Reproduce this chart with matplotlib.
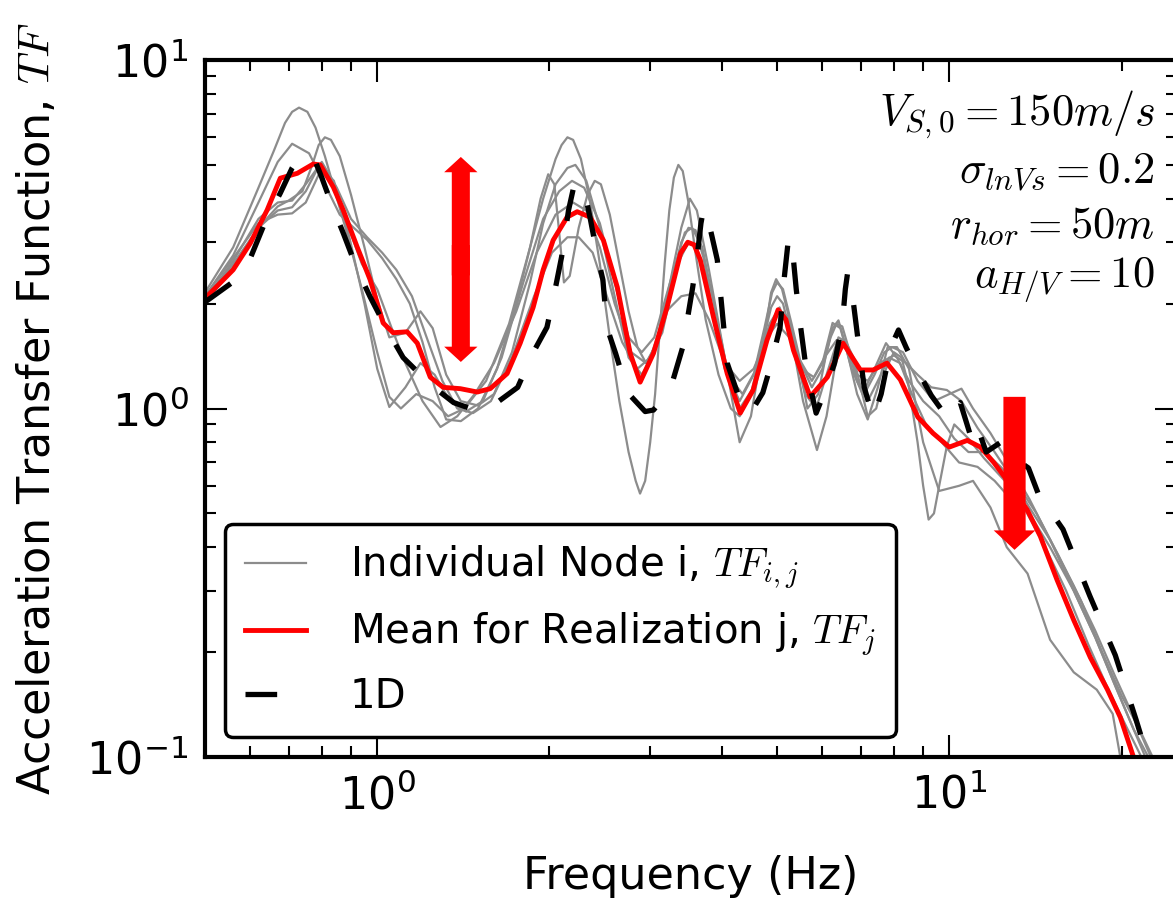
import numpy as np
import matplotlib
matplotlib.use('Agg')
import matplotlib.pyplot as plt

plt.rcParams['mathtext.fontset'] = 'cm'
plt.rcParams['axes.unicode_minus'] = False
plt.rcParams['font.family'] = ['DejaVu Sans']

# individual node transfer functions
g1_f = [0.50, 0.56, 0.62, 0.66, 0.69, 0.71, 0.73, 0.755, 0.78, 0.81, 0.84, 0.88, 0.94, 1.00, 1.05, 1.10,
        1.17, 1.25, 1.33, 1.42, 1.55, 1.70, 1.85, 1.95, 2.05, 2.10, 2.15, 2.20, 2.27, 2.35, 2.45, 2.55,
        2.65, 2.75, 2.83, 2.88, 2.94, 3.00, 3.06, 3.12, 3.18, 3.24, 3.30, 3.36, 3.42, 3.50, 3.60, 3.75,
        3.95, 4.15, 4.30, 4.50, 4.70, 4.88, 5.00, 5.12, 5.30, 5.55, 5.87, 6.10, 6.30, 6.45, 6.60, 6.80,
        7.00, 7.20, 7.45, 7.75, 8.00, 8.25, 8.50, 8.80, 9.00, 9.20, 9.40, 9.60, 9.90, 10.2, 10.8, 11.5,
        12.5, 13.5, 14.5, 16.0, 17.5, 19.0, 20.5, 22.0]
g1_tf = [2.15, 2.9, 4.3, 5.5, 6.6, 7.1, 7.3, 7.1, 6.4, 5.3, 4.3, 3.3, 2.2, 1.45, 1.08, 1.0,
         1.1, 1.05, 0.95, 1.0, 1.2, 1.75, 2.9, 4.0, 5.2, 5.7, 6.0, 5.9, 5.2, 4.0, 2.6, 1.6,
         1.05, 0.75, 0.62, 0.57, 0.62, 0.8, 1.1, 1.7, 2.6, 3.7, 4.6, 5.0, 4.8, 3.9, 2.8, 1.8,
         1.25, 1.0, 0.95, 1.1, 1.5, 1.95, 2.1, 2.0, 1.6, 1.05, 0.76, 0.95, 1.3, 1.5, 1.55, 1.4,
         1.15, 0.95, 1.0, 1.3, 1.45, 1.4, 1.15, 0.8, 0.6, 0.48, 0.5, 0.6, 0.78, 0.9, 0.82, 0.72,
         0.62, 0.52, 0.42, 0.3, 0.21, 0.155, 0.12, 0.095]

g2_f = [0.50, 0.56, 0.62, 0.67, 0.71, 0.76, 0.81, 0.86, 0.91, 0.96, 1.02, 1.08, 1.14, 1.20, 1.26, 1.32,
        1.40, 1.50, 1.62, 1.75, 1.85, 1.93, 1.99, 2.04, 2.08, 2.12, 2.17, 2.25, 2.33, 2.40, 2.46, 2.55,
        2.65, 2.75, 2.85, 2.95, 3.10, 3.25, 3.40, 3.50, 3.60, 3.72, 3.85, 4.05, 4.30, 4.55, 4.75, 4.90,
        5.00, 5.12, 5.30, 5.50, 5.75, 6.00, 6.20, 6.35, 6.50, 6.70, 6.90, 7.10, 7.40, 7.70, 7.95, 8.30,
        8.80, 9.40, 10.0, 10.5, 11.0, 11.8, 12.8, 13.8, 15.0, 16.5, 18.0, 19.5, 21.0, 22.5]
g2_tf = [2.1, 2.75, 3.9, 5.1, 5.75, 5.4, 4.4, 3.6, 3.3, 3.05, 2.7, 2.35, 2.0, 1.55, 1.15, 0.93,
         0.92, 1.0, 1.3, 2.0, 2.9, 4.0, 4.7, 4.4, 3.2, 2.3, 2.4, 3.3, 4.1, 4.5, 4.4, 3.6,
         2.6, 1.9, 1.5, 1.35, 1.55, 2.2, 3.0, 3.3, 3.25, 2.7, 1.95, 1.3, 1.05, 1.25, 1.7, 2.15,
         2.3, 2.2, 1.75, 1.35, 1.15, 1.3, 1.6, 1.75, 1.72, 1.45, 1.2, 1.1, 1.25, 1.45, 1.5, 1.45,
         1.2, 1.05, 1.1, 1.14, 1.0, 0.85, 0.68, 0.55, 0.42, 0.3, 0.22, 0.16, 0.12, 0.097]

g3_f = [0.50, 0.56, 0.62, 0.67, 0.70, 0.74, 0.77, 0.79, 0.81, 0.83, 0.86, 0.90, 0.95, 1.00, 1.05, 1.12,
        1.19, 1.25, 1.32, 1.40, 1.50, 1.60, 1.72, 1.85, 1.95, 2.05, 2.15, 2.22, 2.32, 2.45, 2.60, 2.75,
        2.90, 3.05, 3.25, 3.40, 3.52, 3.62, 3.80, 4.05, 4.30, 4.50, 4.75, 4.88, 4.98, 5.10, 5.35, 5.65,
        5.90, 6.10, 6.25, 6.40, 6.60, 6.90, 7.20, 7.50, 7.80, 8.10, 8.50, 9.00, 9.60, 10.4, 11.0, 11.8,
        12.6, 13.7, 15.0, 16.5, 18.1, 19.3, 19.9, 20.4]
g3_tf = [2.0, 2.55, 3.3, 3.8, 3.95, 4.2, 5.0, 5.7, 6.0, 5.9, 5.3, 4.1, 2.9, 2.05, 1.6, 1.65,
         1.9, 1.7, 1.25, 1.05, 1.02, 1.1, 1.45, 2.3, 3.4, 4.4, 4.9, 5.0, 4.5, 3.3, 2.1, 1.4,
         1.25, 1.45, 2.3, 3.3, 4.0, 3.7, 2.5, 1.4, 0.8, 0.95, 1.6, 2.15, 2.35, 2.2, 1.6, 1.0,
         1.1, 1.45, 1.7, 1.79, 1.5, 1.1, 0.93, 1.15, 1.5, 1.5, 1.3, 0.8, 0.58, 0.6, 0.62, 0.52,
         0.40, 0.336, 0.217, 0.175, 0.156, 0.133, 0.10, 0.088]

g4_f = [0.50, 0.56, 0.62, 0.67, 0.71, 0.75, 0.79, 0.83, 0.88, 0.94, 1.00, 1.06, 1.12, 1.20, 1.29, 1.38,
        1.48, 1.60, 1.75, 1.90, 2.05, 2.20, 2.32, 2.45, 2.60, 2.78, 2.95, 3.15, 3.35, 3.50, 3.62, 3.85,
        4.10, 4.35, 4.60, 4.85, 5.05, 5.30, 5.60, 5.85, 6.10, 6.40, 6.60, 6.90, 7.20, 7.50, 7.85, 8.20,
        8.60, 9.10, 9.70, 10.4, 11.2, 12.0, 12.8, 13.8, 15.0, 16.5, 18.0, 19.5, 21.0, 22.3]
g4_tf = [2.05, 2.6, 3.3, 3.7, 3.78, 4.2, 4.95, 4.6, 3.5, 2.6, 2.2, 1.7, 1.35, 1.05, 0.885, 0.95,
         1.1, 1.35, 1.9, 2.8, 3.6, 3.9, 3.7, 2.9, 2.0, 1.45, 1.35, 1.65, 2.6, 3.0, 2.9, 1.9,
         1.25, 1.1, 1.3, 1.75, 1.95, 1.6, 1.1, 1.0, 1.25, 1.6, 1.55, 1.2, 1.05, 1.2, 1.4, 1.35,
         1.1, 0.9, 0.8, 0.7, 0.68, 0.62, 0.55, 0.5, 0.4, 0.3, 0.22, 0.16, 0.12, 0.095]

g5_f = [0.50, 0.56, 0.62, 0.67, 0.71, 0.75, 0.80, 0.84, 0.89, 0.95, 1.00, 1.05, 1.12, 1.19, 1.26, 1.34,
        1.43, 1.53, 1.65, 1.80, 1.95, 2.08, 2.19, 2.30, 2.45, 2.60, 2.75, 2.90, 3.05, 3.25, 3.45, 3.55,
        3.70, 3.90, 4.15, 4.30, 4.55, 4.80, 5.00, 5.20, 5.45, 5.75, 6.00, 6.25, 6.45, 6.75, 7.05, 7.40,
        7.75, 8.10, 8.50, 9.00, 9.60, 10.2, 10.8, 11.5, 12.3, 13.2, 14.2, 15.5, 17.0, 18.5, 20.0, 21.5,
        23.0]
g5_tf = [2.1, 2.7, 3.4, 3.6, 3.63, 3.9, 4.9, 4.5, 3.2, 2.0, 1.3, 1.01, 1.15, 1.35, 1.25, 1.05,
         0.98, 1.05, 1.4, 2.3, 3.5, 4.2, 4.5, 4.3, 3.4, 2.3, 1.6, 1.45, 1.6, 2.3, 3.2, 3.3,
         2.9, 1.9, 1.15, 1.0, 1.15, 1.6, 1.9, 1.85, 1.4, 1.2, 1.35, 1.76, 1.7, 1.3, 1.1, 1.3,
         1.54, 1.4, 1.2, 1.05, 0.95, 0.82, 0.75, 0.75, 0.68, 0.6, 0.5, 0.38, 0.28, 0.2, 0.15, 0.12,
         0.095]

g6_f = [0.50, 0.56, 0.62, 0.67, 0.71, 0.75, 0.80, 0.85, 0.90, 0.96, 1.02, 1.08, 1.15, 1.22, 1.30, 1.38,
        1.47, 1.58, 1.72, 1.88, 2.02, 2.15, 2.25, 2.38, 2.52, 2.68, 2.85, 3.00, 3.20, 3.40, 3.60, 3.80,
        4.05, 4.30, 4.55, 4.80, 5.00, 5.25, 5.50, 5.80, 6.05, 6.35, 6.60, 6.90, 7.20, 7.55, 8.00, 8.40,
        8.80, 9.30, 9.90, 10.5, 11.2, 12.0, 12.8, 13.8, 15.0, 16.5, 18.0, 19.5, 21.0, 22.5, 23.5]
g6_tf = [2.05, 2.65, 3.5, 3.9, 3.95, 4.4, 5.1, 4.3, 3.5, 3.1, 2.8, 2.5, 2.1, 1.6, 1.2, 1.0,
         0.97, 1.05, 1.4, 2.1, 2.8, 3.1, 3.1, 2.8, 2.1, 1.55, 1.3, 1.4, 1.9, 2.1, 2.14, 1.8,
         1.35, 1.2, 1.3, 1.6, 1.75, 1.6, 1.3, 1.23, 1.4, 1.57, 1.5, 1.25, 1.2, 1.35, 1.42, 1.35,
         1.25, 1.15, 1.13, 1.05, 0.88, 0.75, 0.64, 0.52, 0.42, 0.31, 0.23, 0.17, 0.13, 0.1, 0.088]

nodes = [(g1_f, g1_tf), (g2_f, g2_tf), (g3_f, g3_tf), (g4_f, g4_tf), (g5_f, g5_tf), (g6_f, g6_tf)]

# mean for realization j
mean_f = [0.50, 0.56, 0.60, 0.642, 0.677, 0.725, 0.773, 0.795, 0.838, 0.872, 0.923, 0.972, 1.024, 1.066,
          1.128, 1.175, 1.238, 1.304, 1.397, 1.496, 1.576, 1.687, 1.778, 1.873, 1.95, 2.03, 2.147, 2.236,
          2.356, 2.485, 2.628, 2.768, 2.881, 3.04, 3.21, 3.39, 3.49, 3.58, 3.67, 3.87, 4.09, 4.31, 4.54,
          4.80, 5.02, 5.18, 5.34, 5.71, 6.12, 6.52, 6.99, 7.36, 7.78, 8.21, 8.81, 9.36, 10.0, 10.75, 11.33,
          11.96, 12.6, 13.68, 14.42, 15.43, 16.5, 17.64, 18.9, 19.9, 20.7, 21.2]
mean_tf = [2.07, 2.50, 2.98, 3.71, 4.58, 4.73, 5.03, 5.00, 4.32, 3.71, 2.90, 2.34, 1.76, 1.65,
           1.66, 1.54, 1.23, 1.15, 1.14, 1.115, 1.14, 1.26, 1.54, 1.95, 2.5, 3.04, 3.54, 3.67,
           3.54, 3.04, 2.23, 1.44, 1.19, 1.44, 1.95, 2.79, 3.00, 2.95, 2.67, 1.83, 1.26, 0.97, 1.13,
           1.57, 1.92, 1.8, 1.47, 1.08, 1.23, 1.54, 1.29, 1.29, 1.35, 1.21, 0.945, 0.85, 0.775, 0.81, 0.775,
           0.70, 0.624, 0.512, 0.43, 0.322, 0.247, 0.193, 0.156, 0.13, 0.107, 0.095]

# 1D analysis
oned_f = [0.50, 0.56, 0.60, 0.637, 0.677, 0.71, 0.73, 0.748, 0.765, 0.78, 0.80, 0.83, 0.872, 0.923, 0.972,
          1.041, 1.11, 1.24, 1.36, 1.48, 1.58, 1.76, 1.87, 1.98, 2.05, 2.10, 2.16, 2.20, 2.25, 2.30,
          2.36, 2.42, 2.48, 2.52, 2.61, 2.74, 2.94, 3.04, 3.18, 3.29, 3.42, 3.56, 3.63, 3.68, 3.72,
          3.77, 3.85, 3.93, 4.09, 4.26, 4.49, 4.72, 4.86, 5.06, 5.15, 5.22, 5.27, 5.32, 5.40, 5.50,
          5.62, 5.85, 6.10, 6.30, 6.50, 6.58, 6.64, 6.70, 6.80, 6.95, 7.10, 7.36, 7.60, 7.90, 8.15,
          8.40, 8.70, 9.30, 9.97, 10.45, 10.88, 11.10, 11.60, 12.30, 13.0, 13.75, 14.3, 15.8, 17.6,
          19.5, 21.2, 22.2, 22.6]
oned_tf = [2.02, 2.31, 2.70, 3.43, 4.15, 4.9, 5.25, 5.35, 5.3, 5.1, 4.6, 3.9, 3.19, 2.50, 2.09,
           1.68, 1.40, 1.17, 1.04, 0.99, 1.01, 1.15, 1.44, 1.71, 2.23, 2.72, 3.71, 4.25, 4.45, 4.25,
           3.47, 2.79, 2.34, 1.71, 1.44, 1.11, 0.98, 0.99, 1.08, 1.21, 1.50, 2.23, 2.79, 3.4, 3.75,
           3.6, 3.1, 2.67, 1.35, 1.11, 0.97, 1.11, 1.31, 1.71, 2.4, 2.95, 3.1, 2.85, 2.2, 1.7,
           1.3, 0.97, 1.15, 1.35, 1.75, 2.2, 2.45, 2.35, 2.0, 1.5, 1.15, 0.94, 1.1, 1.5, 1.68,
           1.5, 1.33, 1.09, 0.93, 1.04, 0.84, 0.92, 0.75, 0.80, 0.72, 0.675, 0.57, 0.45, 0.29,
           0.196, 0.128, 0.1, 0.092]

# red arrows: (frequency, TF top, TF bottom)
arrow_both = (1.40, 5.27, 1.36)
arrow_down = (13.0, 1.08, 0.393)

params = [r'$V_{S,0} = 150m/s$', r'$\sigma_{lnVs} = 0.2$', r'$r_{hor} = 50m$', r'$a_{H/V} = 10$']

fig = plt.figure(figsize=(11.73, 9.01), dpi=100)
ax = fig.add_axes([205 / 1173, 1 - 757 / 901, (1177 - 205) / 1173, (757 - 60) / 901])
ax.set_xscale('log')
ax.set_yscale('log')

for k, (f, tf) in enumerate(nodes):
    ax.plot(f, tf, color='0.55', lw=1.6, solid_joinstyle='round',
            label=r'Individual Node i, $TF_{i,j}$' if k == 0 else None)
ax.plot(mean_f, mean_tf, color='red', lw=3.5, solid_joinstyle='round',
        label=r'Mean for Realization j, $TF_j$')
ax.plot(oned_f, oned_tf, color='black', lw=3.8, dashes=(6, 6.5), dash_joinstyle='round', label='1D')

# arrows (double one made of two overlapping halves)
xa, top, bot = arrow_both
mid = np.sqrt(top * bot)
for tip, start in ((top, mid * 0.9), (bot, mid * 1.1)):
    ax.annotate('', xy=(xa, tip), xytext=(xa, start),
                arrowprops=dict(arrowstyle='simple,head_length=11,head_width=24,tail_width=13',
                                color='red', lw=0, shrinkA=0, shrinkB=0, mutation_scale=1), zorder=10)
xa, top, bot = arrow_down
ax.annotate('', xy=(xa, bot), xytext=(xa, top),
            arrowprops=dict(arrowstyle='simple,head_length=14,head_width=30,tail_width=16',
                            color='red', lw=0, shrinkA=0, shrinkB=0, mutation_scale=1), zorder=10)

ax.set_xlim(0.5, 25)
ax.set_ylim(0.1, 10)
for s in ax.spines.values():
    s.set_linewidth(3)
ax.tick_params(which='both', direction='in', top=True, right=True, width=1.5, labelsize=32, pad=12)
ax.tick_params(which='major', length=16)
ax.tick_params(which='minor', length=8)

ax.set_xlabel('Frequency (Hz)', fontsize=32)
ax.set_ylabel('Acceleration Transfer Function, $TF$', fontsize=32)
ax.xaxis.set_label_coords(0.5, -0.14)
ax.yaxis.set_label_coords(-0.15, 0.5)

ys = [0.907, 0.824, 0.745, 0.673]
for txt, yy in zip(params, ys):
    ax.text(0.977, yy, txt, transform=ax.transAxes, ha='right', va='baseline', fontsize=32)

leg = ax.legend(loc='lower left', bbox_to_anchor=(0.0206, 0.0287), borderaxespad=0,
                fontsize=29, handlelength=1.5, handletextpad=1.1, borderpad=0.5,
                labelspacing=0.45, fancybox=True, framealpha=1)
leg.get_frame().set_edgecolor('black')
leg.get_frame().set_linewidth(2.5)

fig.savefig('out.png', dpi=100)
